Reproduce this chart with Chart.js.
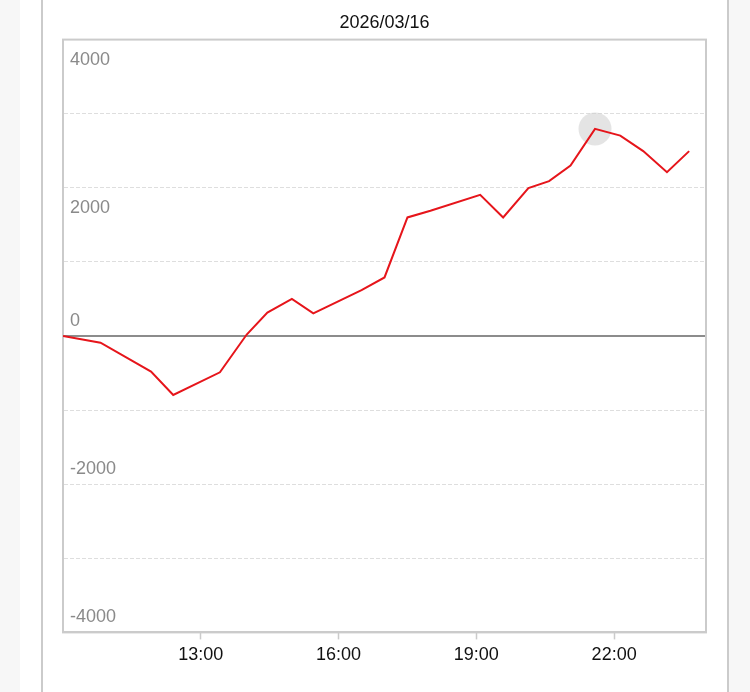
<!DOCTYPE html>
<html lang="ja">
<head>
    <meta charset="UTF-8">
    <meta name="viewport" content="width=device-width, initial-scale=1.0">
    <title>2026/03/16</title>
    <script src="https://cdn.jsdelivr.net/npm/chart.js"></script>
    <style>
        html, body {
            margin: 0;
            padding: 0;
            background: #f7f7f7;
            font-family: "Liberation Sans", Arial, sans-serif;
        }
        .panel {
            position: absolute;
            left: 20px;
            top: 0;
            width: 709px;
            height: 692px;
            background: #fff;
        }
        .inner {
            position: absolute;
            left: 21px;
            top: 0;
            width: 684px;
            height: 692px;
            border-left: 2px solid #cbcbcb;
            border-right: 2px solid #cbcbcb;
        }
        canvas {
            display: block;
        }
    </style>
</head>
<body>
    <div class="panel">
        <div class="inner">
            <canvas id="dayChart" width="684" height="692"></canvas>
        </div>
    </div>

    <script>
        // one day of values
        const chartTitle = '2026/03/16';
        const times = ['10:00', '10:49', '11:55', '12:24', '13:25', '14:00', '14:27', '14:59', '15:27', '16:30',
                       '17:00', '17:30', '18:00', '19:05', '19:35', '20:08', '20:35', '21:03', '21:35', '22:08',
                       '22:38', '23:09', '23:38'];
        const values = [0, -90, -480, -795, -490, 20, 315, 500, 305, 620,
                        790, 1600, 1690, 1905, 1600, 1995, 2090, 2300, 2795, 2705,
                        2495, 2210, 2495];
        const xTickLabels = ['13:00', '16:00', '19:00', '22:00'];
        const xRange = ['10:00', '24:00'];
        const yMin = -4000;
        const yMax = 4000;
        const yStep = 1000;
        const yLabelStep = 2000;

        function toHours(t) {
            let p = t.split(':');
            return parseInt(p[0]) + parseInt(p[1]) / 60;
        }

        let points = times.map((t, i) => ({x: toHours(t), y: values[i]}));
        let peakIndex = values.indexOf(Math.max(...values));
        let peak = [points[peakIndex]];

        // outline of the plot box (top and right sides)
        const frame = {
            id: 'frame',
            beforeDatasetsDraw(chart) {
                let a = chart.chartArea;
                let c = chart.ctx;
                c.save();
                c.strokeStyle = '#cbcbcb';
                c.lineWidth = 2;
                c.strokeRect(a.left, a.top, a.right - a.left, a.bottom - a.top);
                c.restore();
            }
        };

        const fontFamily = '"Liberation Sans", Arial, sans-serif';
        let ctx = document.getElementById('dayChart').getContext('2d');

        let chart = new Chart(ctx, {
            type: 'line',
            data: {
                datasets: [{
                    data: points,
                    borderColor: '#e6151b',
                    borderWidth: 2,
                    pointRadius: 0,
                    fill: false,
                    tension: 0,
                    order: 1
                }, {
                    data: peak,
                    showLine: false,
                    pointRadius: 16.5,
                    pointBackgroundColor: 'rgba(205,205,205,0.55)',
                    pointBorderWidth: 0,
                    order: 2
                }]
            },
            options: {
                responsive: false,
                animation: false,
                events: [],
                layout: {
                    padding: {left: 20, right: 21, top: 0, bottom: 21}
                },
                plugins: {
                    legend: {display: false},
                    tooltip: {enabled: false},
                    title: {
                        display: true,
                        text: chartTitle,
                        color: '#111',
                        font: {family: fontFamily, size: 18, weight: 'normal'},
                        padding: {top: 12, bottom: 6}
                    }
                },
                scales: {
                    x: {
                        type: 'linear',
                        min: toHours(xRange[0]),
                        max: toHours(xRange[1]),
                        afterBuildTicks: axis => {
                            axis.ticks = xTickLabels.map(t => ({value: toHours(t)}));
                        },
                        grid: {
                            drawOnChartArea: false,
                            drawTicks: true,
                            tickLength: 7,
                            tickColor: '#cbcbcb',
                            tickWidth: 1.5
                        },
                        border: {color: '#cbcbcb', width: 2},
                        ticks: {
                            color: '#111',
                            padding: 5,
                            maxRotation: 0,
                            autoSkip: false,
                            font: {family: fontFamily, size: 18},
                            callback: v => xTickLabels.find(t => toHours(t) === v) || ''
                        }
                    },
                    y: {
                        position: 'left',
                        min: yMin,
                        max: yMax,
                        afterFit: axis => { axis.width = 0; },
                        grid: {
                            drawTicks: false,
                            color: c => c.tick && c.tick.value === 0 ? '#8c8c8c' : '#dedede',
                            lineWidth: c => c.tick && c.tick.value === 0 ? 2 : 1
                        },
                        border: {
                            color: '#cbcbcb',
                            width: 2,
                            dash: c => c.tick && c.tick.value !== 0 ? [4, 2] : []
                        },
                        ticks: {
                            stepSize: yStep,
                            mirror: true,
                            padding: 7,
                            labelOffset: -15,
                            color: '#8a8a8a',
                            font: {family: fontFamily, size: 18},
                            callback: v => (v <= 0 && v % yLabelStep === 0) ? String(v) : ''
                        }
                    },
                    y2: {
                        position: 'left',
                        min: yMin,
                        max: yMax,
                        afterFit: axis => { axis.width = 0; },
                        grid: {display: false},
                        border: {display: false},
                        ticks: {
                            stepSize: yStep,
                            mirror: true,
                            padding: 7,
                            labelOffset: 20,
                            color: '#8a8a8a',
                            font: {family: fontFamily, size: 18},
                            callback: v => (v > 0 && v % yLabelStep === 0) ? String(v) : ''
                        }
                    }
                }
            },
            plugins: [frame]
        });
    </script>
</body>
</html>
